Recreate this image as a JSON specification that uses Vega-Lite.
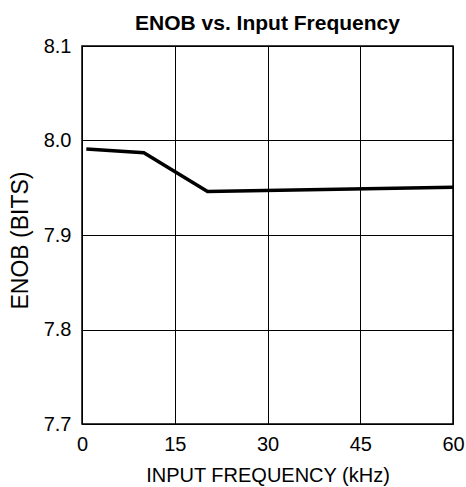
{
  "$schema": "https://vega.github.io/schema/vega-lite/v6.json",
  "width": 371,
  "height": 378,
  "autosize": {"type": "none"},
  "padding": {"left": 82, "top": 46, "right": 13, "bottom": 63},
  "background": "white",
  "title": {"text": "ENOB vs. Input Frequency", "font": "Liberation Sans", "fontSize": 21, "fontWeight": "bold", "color": "black", "offset": 2},
  "config": {
    "view": {"stroke": "black", "strokeWidth": 1.5},
    "axis": {"labelFont": "Liberation Sans", "titleFont": "Liberation Sans", "labelFontSize": 20, "titleFontSize": 20, "titleFontWeight": "normal", "labelColor": "black", "titleColor": "black", "gridColor": "black", "gridOpacity": 1, "gridWidth": 1, "ticks": false, "domain": false, "labelFlush": false}
  },
  "data": {"values": [
    {"freq": 0.7, "enob": 7.991},
    {"freq": 10, "enob": 7.987},
    {"freq": 20.3, "enob": 7.946},
    {"freq": 60, "enob": 7.9505}
  ]},
  "mark": {"type": "line", "color": "black", "strokeWidth": 3.5},
  "encoding": {
    "x": {"field": "freq", "type": "quantitative", "scale": {"domain": [0, 60], "nice": false}, "axis": {"values": [0, 15, 30, 45, 60], "title": "INPUT FREQUENCY (kHz)", "labelPadding": 10, "titlePadding": 11}},
    "y": {"field": "enob", "type": "quantitative", "scale": {"domain": [7.7, 8.1], "nice": false, "zero": false}, "axis": {"values": [7.7, 7.8, 7.9, 8.0, 8.1], "format": ".1f", "title": "ENOB (BITS)", "titleFontSize": 23, "titleY": 194, "labelPadding": 11, "titlePadding": 11}}
  }
}
